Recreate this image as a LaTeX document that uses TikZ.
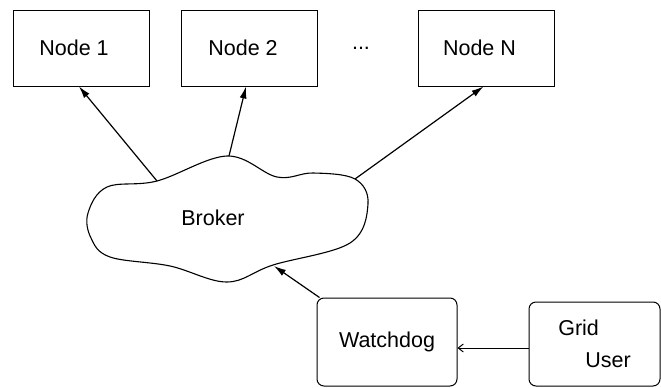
\documentclass[tikz,border=0pt]{standalone}
\usepackage{fontspec}
\setmainfont{Liberation Sans}
\usetikzlibrary{arrows.meta}
\begin{document}
\begin{tikzpicture}[x=1pt,y=-1pt,
  every node/.style={font=\fontsize{21.5}{34}\selectfont},
  nodebox/.style={draw,line width=1pt,minimum width=136pt,minimum height=76pt,inner sep=0pt},
  rbox/.style={draw,line width=1pt,rounded corners=7pt,inner sep=0pt},
  arr/.style={line width=1.2pt,-{Latex[length=12pt,width=7pt]}},
  barb/.style={line width=1pt,-{Straight Barb[length=5pt,width=8pt]}}]
\useasboundingbox (0,0) rectangle (661,388);
% top nodes
\node[nodebox] (n1) at (81,48) {Node 1\hspace*{14pt}};
\node[nodebox] (n2) at (249,48) {Node 2\hspace*{12pt}};
\node (dots) at (361,48) {...};
\node[nodebox] (nN) at (486.5,48) {Node N\hspace*{14pt}};
% cloud
\draw[line width=1.1pt] plot[smooth cycle,tension=0.6] coordinates {
 (88,213) (107,187) (157,181) (227,156) (277,177) (313,173) (355,179)
 (368,204) (350,243) (273,265) (227,282) (170,266) (110,257) (91,238)};
\node (broker) at (213,218) {Broker};
\coordinate (c1) at (157,181);
\coordinate (c2) at (229,156);
\coordinate (c3) at (355,179);
\coordinate (c4) at (274,266);
% bottom nodes
\node[rbox,minimum width=140pt,minimum height=88pt] (wd) at (387,342) {Watchdog};
\node[rbox,minimum width=131pt,minimum height=84pt,align=left] (gu) at (594.5,344) {Grid\\[-2pt]\hspace*{27pt}User};
% arrows
\draw[arr] (c1) -- ([xshift=-2pt]n1.south);
\draw[arr] (c2) -- ([xshift=-3pt]n2.south);
\draw[arr] (c3) -- ([xshift=-3pt]nN.south);
\draw[arr] (wd.north west) ++(3pt,0) coordinate (wdc) (wdc) -- (c4);
\draw[barb] (gu.west |- 0,348) -- (wd.east |- 0,348);
\end{tikzpicture}
\end{document}
